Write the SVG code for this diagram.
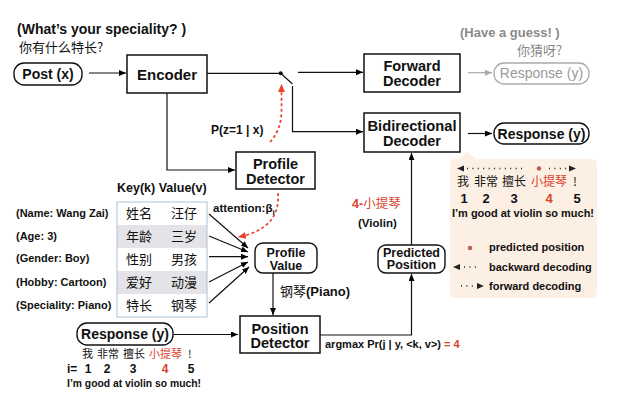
<svg xmlns="http://www.w3.org/2000/svg" width="631" height="416" viewBox="0 0 631 416">
<defs>
<marker id="ah" markerUnits="userSpaceOnUse" markerWidth="8" markerHeight="7" refX="7" refY="3" orient="auto"><path d="M0,0 L7,3 L0,6 z" fill="#000"/></marker>
<marker id="ahg" markerUnits="userSpaceOnUse" markerWidth="8" markerHeight="7" refX="7" refY="3" orient="auto"><path d="M0,0 L7,3 L0,6 z" fill="#aaa"/></marker>
<marker id="ahr" markerUnits="userSpaceOnUse" markerWidth="9" markerHeight="8" refX="8" refY="3.5" orient="auto"><path d="M0,0 L8,3.5 L0,7 z" fill="#e8432d"/></marker>
<style>
text{font-family:"Liberation Sans","Noto Sans CJK SC",sans-serif;fill:#111}
.b{font-weight:bold}
.box{fill:#fff;stroke:#111;stroke-width:1.5}
.pill{fill:#fff;stroke:#111;stroke-width:1.4}
.c{stroke:#111;stroke-width:1.2;fill:none}
.red{fill:#d9412b}
.cjk{font-family:"Noto Sans CJK SC",sans-serif}
.dash{stroke:#e8432d;stroke-width:1.7;fill:none;stroke-dasharray:3 2.5}
.dots{stroke:#222;stroke-width:1.3;stroke-dasharray:1 4.4;fill:none}
</style>
</defs>
<rect width="631" height="416" fill="#fff"/>

<g id="question">
<text x="17" y="34" class="b" font-size="14">(What’s your speciality? )</text>
<text x="19" y="52" class="cjk" font-size="13">你有什么特长?</text>
</g>
<g id="guess">
<text x="460" y="37" class="b" font-size="13" style="fill:#8a8a8a">(Have a guess! )</text>
<text x="517" y="55" class="cjk" font-size="13" style="fill:#8a8a8a">你猜呀?</text>
</g>

<g id="post">
<rect x="14" y="63" width="68" height="22" rx="10" class="pill"/>
<text x="48" y="78.5" class="b" font-size="14" text-anchor="middle">Post (x)</text>
</g>
<g id="encoder">
<rect x="127" y="55" width="80" height="38" class="box"/>
<text x="167" y="80" class="b" font-size="15" text-anchor="middle">Encoder</text>
</g>
<g id="forward-decoder">
<rect x="364" y="54" width="96" height="38" class="box"/>
<text x="412" y="71" class="b" font-size="14.5" text-anchor="middle">Forward</text>
<text x="412" y="86" class="b" font-size="14.5" text-anchor="middle">Decoder</text>
</g>
<g id="bidirectional-decoder">
<rect x="364" y="113" width="96" height="39" class="box"/>
<text x="412" y="131" class="b" font-size="14.5" text-anchor="middle" textLength="89" lengthAdjust="spacingAndGlyphs">Bidirectional</text>
<text x="412" y="146" class="b" font-size="14.5" text-anchor="middle">Decoder</text>
</g>
<g id="response-guess">
<rect x="494" y="63" width="95" height="21" rx="10" fill="#fff" stroke="#aaa" stroke-width="1.3"/>
<text x="541.5" y="78" font-size="14" text-anchor="middle" style="fill:#999">Response (y)</text>
</g>
<g id="response-out">
<rect x="494" y="123" width="95" height="21" rx="10" class="pill"/>
<text x="541.5" y="138.5" class="b" font-size="14" text-anchor="middle">Response (y)</text>
</g>
<g id="profile-detector">
<rect x="236" y="152" width="79" height="37" class="box"/>
<text x="275.5" y="168.5" class="b" font-size="14.5" text-anchor="middle">Profile</text>
<text x="275.5" y="184" class="b" font-size="14.5" text-anchor="middle">Detector</text>
</g>
<g id="profile-value">
<rect x="255" y="243" width="62" height="30" rx="8" class="pill"/>
<text x="286" y="256.5" class="b" font-size="12.5" text-anchor="middle">Profile</text>
<text x="286" y="269.5" class="b" font-size="12.5" text-anchor="middle">Value</text>
</g>
<g id="position-detector">
<rect x="240" y="316" width="80" height="37" class="box"/>
<text x="280" y="333.5" class="b" font-size="14.5" text-anchor="middle">Position</text>
<text x="280" y="348" class="b" font-size="14.5" text-anchor="middle">Detector</text>
</g>
<g id="predicted-position">
<rect x="378" y="245" width="67" height="28" rx="8" class="pill"/>
<text x="411.5" y="256.5" class="b" font-size="12.5" text-anchor="middle">Predicted</text>
<text x="411.5" y="269" class="b" font-size="12.5" text-anchor="middle">Position</text>
</g>

<g id="profile-table">
<text x="117" y="192" class="b" font-size="12.5">Key(k) Value(v)</text>
<rect x="117" y="202" width="90" height="115" fill="#fff"/>
<rect x="117" y="225" width="90" height="23" fill="#e4e4e8"/>
<rect x="117" y="271" width="90" height="23" fill="#e4e4e8"/>
<rect x="117" y="202" width="90" height="115" fill="none" stroke="#aac2d6" stroke-width="1"/>
<g font-size="13">
<text x="126" y="218" class="cjk">姓名</text><text x="171" y="218" class="cjk">汪仔</text>
<text x="126" y="241" class="cjk">年龄</text><text x="171" y="241" class="cjk">三岁</text>
<text x="126" y="264" class="cjk">性别</text><text x="171" y="264" class="cjk">男孩</text>
<text x="126" y="287" class="cjk">爱好</text><text x="171" y="287" class="cjk">动漫</text>
<text x="126" y="310" class="cjk">特长</text><text x="171" y="310" class="cjk">钢琴</text>
</g>
<g class="b" font-size="11">
<text x="16" y="216.5">(Name: Wang Zai)</text>
<text x="16" y="239.5">(Age: 3)</text>
<text x="16" y="262">(Gender: Boy)</text>
<text x="16" y="286">(Hobby: Cartoon)</text>
<text x="16" y="309">(Speciality: Piano)</text>
</g>
</g>

<g id="legend">
<path d="M458,160 L467,152 L478,160 Z" fill="#fcefe3"/>
<rect x="450" y="159" width="147" height="139" rx="5" fill="#fcefe3"/>
<path d="M457,168.5 L464,165.5 L464,171.5 Z" fill="#222"/>
<line x1="467" y1="168.5" x2="523" y2="168.5" class="dots"/>
<circle cx="539" cy="168.5" r="2.3" fill="#c0604f"/>
<line x1="549" y1="168.5" x2="568" y2="168.5" class="dots"/>
<path d="M576,168.5 L569,165.5 L569,171.5 Z" fill="#222"/>
<g font-size="12">
<text x="457" y="185.5" class="cjk">我</text>
<text x="474" y="185.5" class="cjk">非常</text>
<text x="502" y="185.5" class="cjk">擅长</text>
<text x="531" y="185.5" class="cjk red">小提琴</text>
<text x="573" y="185.5" class="cjk">!</text>
</g>
<g font-size="13" text-anchor="middle">
<text x="464" y="203" class="b">1</text>
<text x="486" y="203" class="b">2</text>
<text x="514" y="203" class="b">3</text>
<text x="549" y="203" class="b red">4</text>
<text x="577" y="203" class="b">5</text>
</g>
<text x="452" y="217" class="b" font-size="11" textLength="142" lengthAdjust="spacingAndGlyphs">I’m good at violin so much!</text>
<circle cx="470" cy="248" r="2.3" fill="#c0604f"/>
<text x="489" y="251" class="b" font-size="11">predicted position</text>
<path d="M453,267 L460,264 L460,270 Z" fill="#222"/>
<line x1="464" y1="267" x2="480" y2="267" class="dots"/>
<text x="489" y="270.5" class="b" font-size="11">backward decoding</text>
<line x1="461" y1="286" x2="476" y2="286" class="dots"/>
<path d="M484,286 L477,283 L477,289 Z" fill="#222"/>
<text x="489" y="289.5" class="b" font-size="11">forward decoding</text>
</g>

<g id="response-input">
<rect x="77" y="323" width="96" height="22" rx="10" class="pill"/>
<text x="125" y="339" class="b" font-size="14" text-anchor="middle">Response (y)</text>
<g font-size="11">
<text x="82" y="358" class="cjk">我</text>
<text x="97" y="358" class="cjk">非常</text>
<text x="123" y="358" class="cjk">擅长</text>
<text x="149" y="358" class="cjk red">小提琴</text>
<text x="188" y="358" class="cjk">!</text>
</g>
<g font-size="12">
<text x="67" y="373" class="b">i=</text>
<text x="88" y="373" class="b" text-anchor="middle">1</text>
<text x="107" y="373" class="b" text-anchor="middle">2</text>
<text x="133" y="373" class="b" text-anchor="middle">3</text>
<text x="165" y="373" class="b red" text-anchor="middle">4</text>
<text x="191" y="373" class="b" text-anchor="middle">5</text>
</g>
<text x="67" y="387" class="b" font-size="10.3" textLength="134" lengthAdjust="spacingAndGlyphs">I’m good at violin so much!</text>
</g>

<g id="connectors">
<line x1="89" y1="73" x2="126" y2="73" class="c" marker-end="url(#ah)"/>
<line x1="207" y1="73.3" x2="280.7" y2="73.3" class="c"/>
<circle cx="280.7" cy="73.3" r="2" fill="#111"/>
<line x1="280.7" y1="73.3" x2="292.5" y2="84" class="c"/>
<polyline points="292.5,86 292.5,131.7 363,131.7" class="c" marker-end="url(#ah)"/>
<line x1="298" y1="72.3" x2="363" y2="72.3" class="c" marker-end="url(#ah)"/>
<line x1="468" y1="72.7" x2="492" y2="72.7" stroke="#aaa" stroke-width="1.2" marker-end="url(#ahg)"/>
<line x1="468" y1="133.5" x2="492" y2="133.5" class="c" marker-end="url(#ah)"/>
<polyline points="167,93 167,170 235,170" class="c" marker-end="url(#ah)"/>
<path d="M270,142 Q281,130 281.5,112 L281.5,84" class="dash" marker-end="url(#ahr)"/>
<text x="211" y="134" class="b" font-size="12">P(z=1 | x)</text>
<path d="M278,193 C280,218 265,232 238,237" class="dash" marker-end="url(#ahr)"/>
<text x="213" y="212" class="b" font-size="11.5">attention:β<tspan font-size="8" dy="3">i</tspan></text>
<line x1="209" y1="214" x2="248" y2="248" class="c" marker-end="url(#ah)"/>
<line x1="209" y1="236" x2="248" y2="252" class="c" marker-end="url(#ah)"/>
<line x1="209" y1="256.7" x2="248" y2="256.7" class="c" marker-end="url(#ah)"/>
<line x1="209" y1="282" x2="248" y2="262" class="c" marker-end="url(#ah)"/>
<line x1="209" y1="303" x2="249" y2="267" class="c" marker-end="url(#ah)"/>
<line x1="273" y1="273" x2="273" y2="315" class="c" marker-end="url(#ah)"/>
<text x="280" y="296" class="b" font-size="13"><tspan class="cjk" font-weight="normal">钢琴</tspan>(Piano)</text>
<line x1="174" y1="334.5" x2="238" y2="334.5" class="c" marker-end="url(#ah)"/>
<polyline points="320,335 411.5,335 411.5,274" class="c" marker-end="url(#ah)"/>
<text x="325" y="348" class="b" font-size="11">argmax Pr(j | y, &lt;k, v&gt;) <tspan class="red">= 4</tspan></text>
<line x1="411.5" y1="245" x2="411.5" y2="153" class="c" marker-end="url(#ah)"/>
<text x="352" y="208" class="b red" font-size="12.5">4-<tspan class="cjk" font-weight="normal">小提琴</tspan></text>
<text x="358" y="227" class="b" font-size="11.5">(Violin)</text>
</g>
</svg>
